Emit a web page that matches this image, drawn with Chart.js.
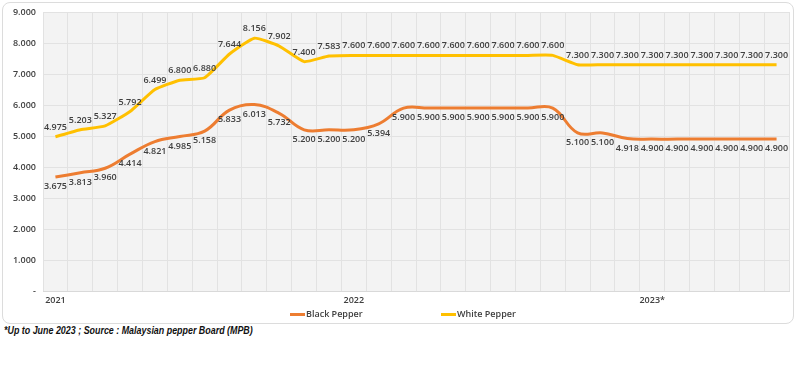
<!DOCTYPE html>
<html>
<head>
<meta charset="utf-8">
<script src="https://cdn.jsdelivr.net/npm/chart.js@4.4.1/dist/chart.umd.min.js"></script>
<style>
  body { margin: 0; background: #fff; font-family: "Open Sans", sans-serif; }
  #box { position: absolute; left: 2px; top: 2px; width: 790px; height: 320px;
         border: 1px solid #dcdcdc; border-radius: 8px; }
  #note { position: absolute; left: 4px; top: 325px; font-family: "Liberation Sans", sans-serif;
          font-size: 10px; font-weight: bold; font-style: italic; color: #111;
          transform: scaleX(0.89); transform-origin: left top; white-space: nowrap; }
</style>
</head>
<body>
<div id="box"><canvas id="pepper" width="790" height="320"></canvas></div>
<div id="note">*Up to June 2023 ; Source : Malaysian pepper Board (MPB)</div>
<script>
// monthly prices, Jan 2021 - Jun 2023
var months = [];
for (var y = 2021; y <= 2023; y++) {
  for (var m = 1; m <= 12; m++) {
    if (y == 2023 && m > 6) break;
    months.push(y + '-' + (m < 10 ? '0' + m : m));
  }
}
var yearTicks = ['2021', '2022', '2023*'];

var blackPepper = [3675, 3813, 3960, 4414, 4821, 4985, 5158, 5833, 6013, 5732,
  5200, 5200, 5200, 5394, 5900, 5900, 5900, 5900, 5900, 5900,
  5900, 5100, 5100, 4918, 4900, 4900, 4900, 4900, 4900, 4900];
var whitePepper = [4975, 5203, 5327, 5792, 6499, 6800, 6880, 7644, 8156, 7902,
  7400, 7583, 7600, 7600, 7600, 7600, 7600, 7600, 7600, 7600,
  7600, 7300, 7300, 7300, 7300, 7300, 7300, 7300, 7300, 7300];

function fmt(v) {
  if (v == 0) return '-';
  var s = String(Math.round(v));
  return s.replace(/\B(?=(\d{3})+(?!\d))/g, '.');
}

// plot area background
var plotBg = {
  id: 'plotBg',
  beforeDraw: function(chart) {
    var a = chart.chartArea, ctx = chart.ctx;
    ctx.save();
    ctx.fillStyle = '#f3f3f3';
    ctx.fillRect(a.left, a.top, a.right - a.left, a.bottom - a.top);
    ctx.restore();
  }
};

// value labels: white above, black below
var valueLabels = {
  id: 'valueLabels',
  afterDatasetsDraw: function(chart) {
    var ctx = chart.ctx;
    ctx.save();
    ctx.font = '600 9px "Open Sans"';
    ctx.fillStyle = '#404040';
    ctx.textAlign = 'center';
    chart.data.datasets.forEach(function(ds, i) {
      var meta = chart.getDatasetMeta(i);
      meta.data.forEach(function(pt, j) {
        if (ds.label == 'White Pepper') {
          ctx.textBaseline = 'bottom';
          ctx.fillText(fmt(ds.data[j]), pt.x, pt.y - 5);
        } else {
          ctx.textBaseline = 'top';
          ctx.fillText(fmt(ds.data[j]), pt.x, pt.y + 5);
        }
      });
    });
    ctx.restore();
  }
};

// legend drawn under the axis
var bottomLegend = {
  id: 'bottomLegend',
  afterDraw: function(chart) {
    var ctx = chart.ctx;
    var xs = [287, 438];
    ctx.save();
    ctx.font = '600 9px "Open Sans"';
    ctx.textBaseline = 'middle';
    chart.data.datasets.forEach(function(ds, i) {
      ctx.fillStyle = ds.borderColor;
      ctx.fillRect(xs[i], 310, 15, 3);
      ctx.fillStyle = '#404040';
      ctx.fillText(ds.label, xs[i] + 16, 311);
    });
    ctx.restore();
  }
};

Chart.defaults.font.family = '"Open Sans", sans-serif';
var chart = new Chart('pepper', {
  type: 'line',
  plugins: [plotBg, valueLabels, bottomLegend],
  data: {
    labels: months,
    datasets: [
      {
        label: 'Black Pepper',
        data: blackPepper,
        borderColor: '#ED7D31',
        backgroundColor: '#ED7D31',
        borderWidth: 3,
        pointRadius: 0,
        tension: 0.4,
        fill: false
      },
      {
        label: 'White Pepper',
        data: whitePepper,
        borderColor: '#FFC000',
        backgroundColor: '#FFC000',
        borderWidth: 3,
        pointRadius: 0,
        tension: 0.15,
        fill: false
      }
    ]
  },
  options: {
    responsive: false,
    animation: false,
    layout: { padding: { top: 0, right: 4, left: 0, bottom: 15 } },
    scales: {
      x: {
        offset: true,
        grid: { color: '#e2e2e2', offset: true, drawTicks: false },
        border: { color: '#d9d9d9' },
        ticks: {
          autoSkip: false,
          maxRotation: 0,
          padding: 4,
          color: '#404040',
          font: { size: 9, weight: '600' },
          callback: function(val, idx) {
            return idx % 12 == 0 ? yearTicks[idx / 12] : '';
          }
        },
        afterFit: function(s) { s.height = 17; }
      },
      y: {
        min: 0,
        max: 9000,
        grid: { color: '#e2e2e2', drawTicks: false },
        border: { display: false },
        ticks: {
          stepSize: 1000,
          padding: 7,
          color: '#404040',
          font: { size: 9, weight: '600' },
          callback: function(v) { return fmt(v); }
        },
        afterFit: function(s) { s.width = 40; s.paddingTop = 9; }
      }
    },
    plugins: {
      tooltip: { enabled: false },
      legend: { display: false }
    }
  }
});
</script>
</body>
</html>
